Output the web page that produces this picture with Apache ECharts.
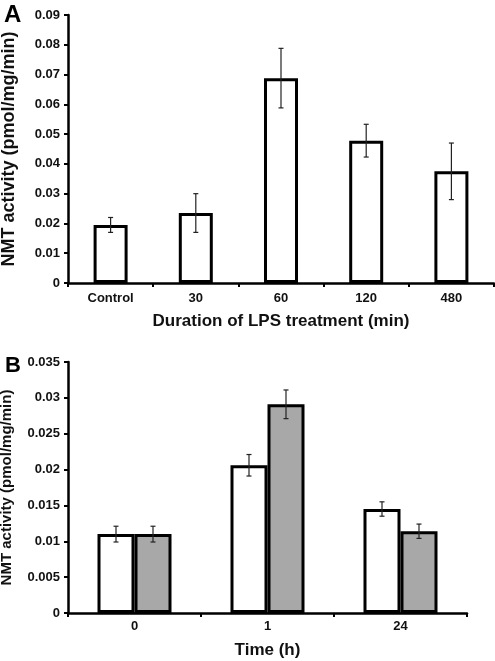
<!DOCTYPE html>
<html>
<head>
<meta charset="utf-8">
<script src="https://cdn.jsdelivr.net/npm/echarts@6/dist/echarts.min.js"></script>
<style>
html,body{margin:0;padding:0;background:#fff;}
#chart{width:495px;height:661px;}
</style>
</head>
<body>
<div id="chart"></div>
<script>
// Panel A data
var catsA = ['Control', '30', '60', '120', '480'];
var valsA = [0.0195, 0.0235, 0.0688, 0.0478, 0.0375];
var errA  = [0.0025, 0.0065, 0.0100, 0.0055, 0.0095];

// Panel B data
var catsB = ['0', '1', '24'];
var valsBWhite = [0.0110, 0.0206, 0.0145];
var errBWhite  = [0.0011, 0.0015, 0.0010];
var valsBGrey  = [0.0110, 0.0291, 0.0114];
var errBGrey   = [0.0011, 0.0020, 0.0010];

var FONT = 'Liberation Sans, Arial, sans-serif';
var BAR_A = 34;
var BAR_B = 37;

function errData(vals, errs) {
  return vals.map(function (v, i) { return [i, v - errs[i], v + errs[i]]; });
}

function errRender(offset) {
  return function (params, api) {
    var x = api.value(0);
    var lo = api.coord([x, api.value(1)]);
    var hi = api.coord([x, api.value(2)]);
    var cx = lo[0] + offset;
    var cap = 2.5;
    var style = { stroke: '#222', lineWidth: 1.2 };
    return {
      type: 'group',
      children: [
        { type: 'line', shape: { x1: cx, y1: hi[1], x2: cx, y2: lo[1] }, style: style },
        { type: 'line', shape: { x1: cx - cap, y1: hi[1], x2: cx + cap, y2: hi[1] }, style: style },
        { type: 'line', shape: { x1: cx - cap, y1: lo[1], x2: cx + cap, y2: lo[1] }, style: style }
      ]
    };
  };
}

function fmt(v) { return String(+v.toFixed(3)); }

var axisLineStyle = { color: '#000', width: 2.5 };
var labelStyle = { color: '#111', fontFamily: FONT, fontWeight: 'bold', fontSize: 13 };
var nameStyle = { color: '#111', fontFamily: FONT, fontWeight: 'bold' };

var chart = echarts.init(document.getElementById('chart'), null, { renderer: 'canvas' });
chart.setOption({
  backgroundColor: '#fff',
  animation: false,
  graphic: [
    { type: 'text', left: 4, top: 3, style: { text: 'A', fontFamily: FONT, fontWeight: 'bold', fontSize: 24, fill: '#000' } },
    { type: 'text', left: 5, top: 355, style: { text: 'B', fontFamily: FONT, fontWeight: 'bold', fontSize: 22, fill: '#000' } }
  ],
  grid: [
    { left: 68, right: 1, top: 15, height: 268, containLabel: false, outerBoundsMode: 'none' },
    { left: 68, right: 28, top: 362, height: 251, containLabel: false, outerBoundsMode: 'none' }
  ],
  xAxis: [
    {
      gridIndex: 0, type: 'category', data: catsA,
      axisLine: { lineStyle: axisLineStyle },
      axisTick: { show: true, length: 4, lineStyle: { color: '#000', width: 2 } },
      axisLabel: Object.assign({ margin: 9 }, labelStyle),
      name: 'Duration of LPS treatment (min)', nameLocation: 'middle', nameGap: 30,
      nameTextStyle: Object.assign({ fontSize: 17 }, nameStyle)
    },
    {
      gridIndex: 1, type: 'category', data: catsB,
      axisLine: { lineStyle: axisLineStyle },
      axisTick: { show: true, length: 4, lineStyle: { color: '#000', width: 2 } },
      axisLabel: Object.assign({ margin: 7 }, labelStyle),
      name: 'Time (h)', nameLocation: 'middle', nameGap: 29,
      nameTextStyle: Object.assign({ fontSize: 17 }, nameStyle)
    }
  ],
  yAxis: [
    {
      gridIndex: 0, type: 'value', min: 0, max: 0.09, interval: 0.01,
      axisLine: { show: true, lineStyle: axisLineStyle },
      axisTick: { show: true, length: 4, lineStyle: { color: '#000', width: 2 } },
      splitLine: { show: false },
      axisLabel: Object.assign({ margin: 8, formatter: fmt }, labelStyle),
      name: 'NMT activity (pmol/mg/min)', nameLocation: 'middle', nameGap: 50,
      nameTextStyle: Object.assign({ fontSize: 18 }, nameStyle)
    },
    {
      gridIndex: 1, type: 'value', min: 0, max: 0.035, interval: 0.005,
      axisLine: { show: true, lineStyle: axisLineStyle },
      axisTick: { show: true, length: 4, lineStyle: { color: '#000', width: 2 } },
      splitLine: { show: false },
      axisLabel: Object.assign({ margin: 8, formatter: fmt }, labelStyle),
      name: 'NMT activity (pmol/mg/min)', nameLocation: 'middle', nameGap: 54,
      nameTextStyle: Object.assign({ fontSize: 15 }, nameStyle)
    }
  ],
  series: [
    {
      type: 'bar', xAxisIndex: 0, yAxisIndex: 0, data: valsA, barWidth: BAR_A,
      itemStyle: { color: '#fff', borderColor: '#000', borderWidth: 3 }
    },
    {
      type: 'custom', xAxisIndex: 0, yAxisIndex: 0, data: errData(valsA, errA),
      renderItem: errRender(0), z: 10
    },
    {
      type: 'bar', xAxisIndex: 1, yAxisIndex: 1, data: valsBWhite, barWidth: BAR_B, barGap: '0%',
      itemStyle: { color: '#fff', borderColor: '#000', borderWidth: 3 }
    },
    {
      type: 'bar', xAxisIndex: 1, yAxisIndex: 1, data: valsBGrey, barWidth: BAR_B, barGap: '0%',
      itemStyle: { color: '#a8a8a8', borderColor: '#000', borderWidth: 3 }
    },
    {
      type: 'custom', xAxisIndex: 1, yAxisIndex: 1, data: errData(valsBWhite, errBWhite),
      renderItem: errRender(-BAR_B / 2), z: 10
    },
    {
      type: 'custom', xAxisIndex: 1, yAxisIndex: 1, data: errData(valsBGrey, errBGrey),
      renderItem: errRender(BAR_B / 2), z: 10
    }
  ]
});
</script>
</body>
</html>
